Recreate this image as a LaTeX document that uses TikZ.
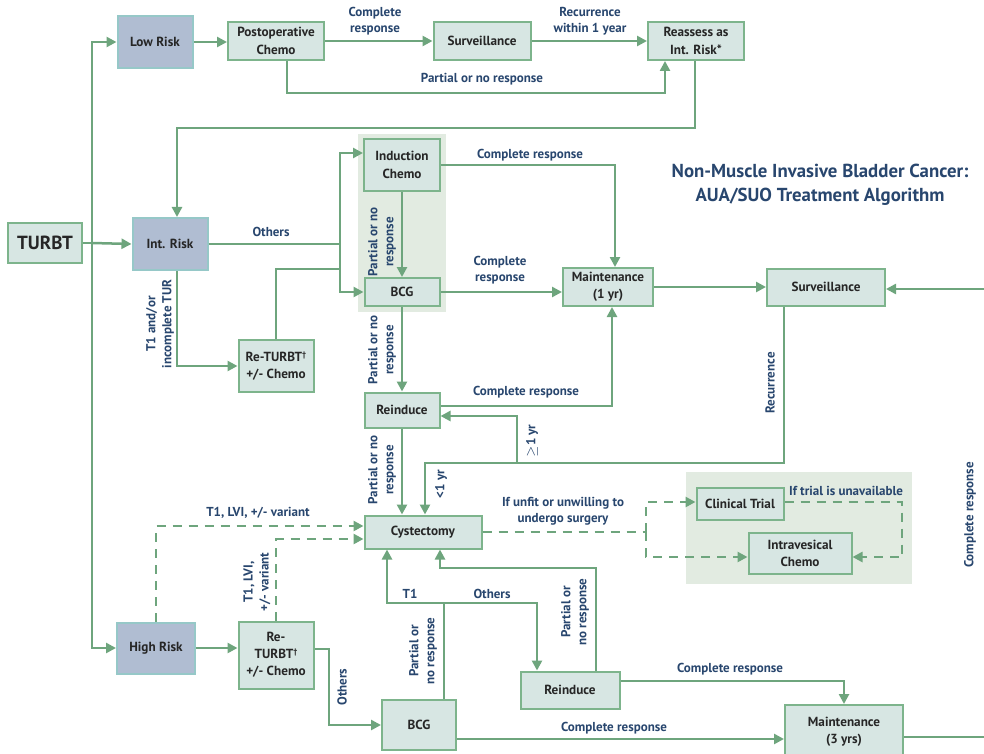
\documentclass[tikz,border=0pt]{standalone}
\usepackage{fontspec}
\setmainfont{PT Sans}
\usepackage{tikz}
\usetikzlibrary{arrows.meta}
\usetikzlibrary{positioning}

\definecolor{boxfill}{RGB}{215,230,227}
\definecolor{boxline}{RGB}{125,180,140}
\definecolor{riskfill}{RGB}{176,189,210}
\definecolor{riskline}{RGB}{150,200,200}
\definecolor{flowgreen}{RGB}{110,165,125}
\definecolor{labelblue}{RGB}{40,70,110}
\definecolor{panelfill}{RGB}{226,235,225}
\newcommand\dg{\raisebox{2pt}{\fontsize{4}{4}\selectfont †}}

\begin{document}
\begin{tikzpicture}[x=0.5pt,y=-0.5pt,
    box/.style={draw=boxline,fill=boxfill,line width=1pt,align=center,inner sep=0pt,
        text=black!85,font=\fontsize{6.6}{8.6}\selectfont\bfseries},
    risk/.style={box,fill=riskfill,draw=riskline},
    panel/.style={fill=panelfill,inner sep=0pt},
    flow/.style={draw=flowgreen,line width=1.25pt,-{Triangle[length=5pt,width=5pt]}},
    link/.style={draw=flowgreen,line width=1.25pt},
    dflow/.style={flow,dash pattern=on 4.5pt off 3.5pt},
    dlink/.style={link,dash pattern=on 4.5pt off 3.5pt},
    lbl/.style={text=labelblue,align=center,inner sep=0pt,font=\fontsize{6.5}{8}\selectfont\bfseries},
    title/.style={text=labelblue,align=center,font=\fontsize{9.4}{12}\selectfont\bfseries}]
    \useasboundingbox (0,0) rectangle (984,754);
    % shaded groups
    \node[panel,minimum width=44pt,minimum height=89pt] (panelA) at (402,223) {};
    \node[panel,minimum width=113pt,minimum height=56pt] (panelB) at (799,528) {};
    % boxes
    \node[box,minimum width=37pt,minimum height=19.5pt,font=\fontsize{9.5}{11}\selectfont\bfseries] (turbt) at (45,243) {TURBT};
    \node[risk,minimum width=37.5pt,minimum height=26pt] (lowrisk) at (155,42) {Low Risk};
    \node[box,minimum width=48pt,minimum height=19pt] (postop) at (276,41) {Postoperative\\Chemo};
    \node[box,minimum width=48.5pt,minimum height=19pt] (survA) at (482,41) {Surveillance};
    \node[box,minimum width=48pt,minimum height=19pt] (reassess) at (696,41) {Reassess as\\Int. Risk*};
    \node[risk,minimum width=37.5pt,minimum height=26pt] (intrisk) at (170,244) {Int. Risk};
    \node[box,minimum width=38pt,minimum height=26pt] (induct) at (402,165) {Induction\\Chemo};
    \node[box,minimum width=37.5pt,minimum height=14pt] (bcgA) at (402,292) {BCG};
    \node[box,minimum width=37.5pt,minimum height=26pt] (returbtA) at (276,366) {Re-TURBT\dg\\+/- Chemo};
    \node[box,minimum width=45pt,minimum height=19pt] (maintA) at (608,287) {Maintenance\\(1 yr)};
    \node[box,minimum width=59pt,minimum height=18.5pt] (survB) at (826,287) {Surveillance};
    \node[box,minimum width=37.5pt,minimum height=17.5pt] (reinduceA) at (402,410) {Reinduce};
    \node[box,minimum width=58.5pt,minimum height=16.5pt] (cyst) at (423,532) {Cystectomy};
    \node[box,minimum width=43.5pt,minimum height=16pt] (trial) at (740,504) {Clinical Trial};
    \node[box,minimum width=51.5pt,minimum height=20.5pt] (intraves) at (800,553) {Intravesical\\Chemo};
    \node[risk,minimum width=39pt,minimum height=25.5pt] (highrisk) at (156,648) {High Risk};
    \node[box,minimum width=37.5pt,minimum height=33.5pt] (returbtB) at (276,655) {Re-\\TURBT\dg\\+/- Chemo};
    \node[box,minimum width=37pt,minimum height=25pt] (bcgB) at (419,725) {BCG};
    \node[box,minimum width=49.5pt,minimum height=18.5pt] (reinduceB) at (570,690) {Reinduce};
    \node[box,minimum width=59pt,minimum height=27pt] (maintB) at (844,732) {Maintenance\\(3 yrs)};
    \node[title] (ttl) at (820,185) {Non-Muscle Invasive Bladder Cancer:\\AUA/SUO Treatment Algorithm};
    % bend points
    \coordinate (tk) at (92,243);
    \coordinate (pnA) at (287,93);
    \coordinate (pnB) at (665,93);
    \coordinate (rbA) at (695,128);
    \coordinate (rbB) at (177,128);
    \coordinate (splA) at (340,244);
    \coordinate (splB) at (340,269);
    \coordinate (rcA) at (784,463);
    \coordinate (rcB) at (425,463);
    \coordinate (geA) at (517,463);
    \coordinate (dsA) at (646,532);
    \coordinate (tuA) at (902,502);
    \coordinate (obA) at (329,649);
    \coordinate (bjA) at (444,603);
    \coordinate (rbC) at (596,568);
    \coordinate (rbD) at (440,568);
    \coordinate (rtA) at (992,289);
    \coordinate (rtB) at (992,737);
    % connectors
    \draw[link] (turbt.east) -- (tk);
    \draw[flow] (tk) |- (lowrisk.west);
    \draw[flow] (tk) -- (intrisk.west);
    \draw[flow] (tk) |- (highrisk.west);
    \draw[flow] (lowrisk.east) -- (postop.west |- lowrisk.east);
    \draw[flow] (postop.east) -- (survA.west);
    \draw[flow] (survA.east) -- (reassess.west);
    \draw[flow] (postop.south -| pnA) -- (pnA) -- (pnB) -- (reassess.south -| pnB);
    \draw[flow] (reassess.south -| rbA) -- (rbA) -- (rbB) -- (intrisk.north -| rbB);
    \draw[link] (intrisk.east) -- (splA);
    \draw[flow] (splA) |- (induct.west |- 0,153);
    \draw[flow] (splA) |- (bcgA.west);
    \draw[link] (returbtA.north) |- (splB);
    \draw[flow] (intrisk.south -| 177,0) |- (returbtA.west);
    \draw[flow] (induct.south) -- (bcgA.north);
    \draw[flow] (induct.east) -| (maintA.north -| 615,0);
    \draw[flow] (bcgA.east) -- (maintA.west |- bcgA.east);
    \draw[flow] (maintA.east) -- (survB.west);
    \draw[flow] (maintB.east |- rtB) -- (rtB) -- (rtA) -- (survB.east |- rtA);
    \draw[flow] (bcgA.south) -- (reinduceA.north);
    \draw[flow] (reinduceA.east |- 0,406) -| (maintA.south -| 612,0);
    \draw[flow] (survB.south -| rcA) -- (rcA) -- (rcB) -- (cyst.north -| rcB);
    \draw[flow] (geA) |- (reinduceA.east |- 0,416);
    \draw[flow] (reinduceA.south) -- (reinduceA.south |- cyst.north);
    \draw[dlink] (cyst.east) -- (dsA);
    \draw[dflow] (dsA) |- (trial.west |- 0,502);
    \draw[dflow] (dsA) |- (intraves.west |- 0,557);
    \draw[dflow] (trial.east |- tuA) -- (tuA) |- (intraves.east |- 0,557);
    \draw[dflow] (highrisk.north) |- (cyst.west |- 0,526);
    \draw[dflow] (returbtB.north) |- (cyst.west |- 0,539);
    \draw[flow] (highrisk.east) -- (returbtB.west |- highrisk.east);
    \draw[flow] (returbtB.east |- obA) -- (obA) |- (bcgB.west);
    \draw[link] (bcgB.north -| bjA) -- (bjA);
    \draw[flow] (bjA) -| (cyst.south -| 387,0);
    \draw[flow] (bjA) -| (reinduceB.north -| 537,0);
    \draw[flow] (reinduceB.north -| rbC) -- (rbC) -- (rbD) -- (cyst.south -| rbD);
    \draw[flow] (reinduceB.east |- 0,681) -| (maintB.north);
    \draw[flow] (bcgB.east |- 0,739) -- (maintB.west |- 0,739);
    % labels
    \node[lbl] (l1) at (375,21) {Complete\\response};
    \node[lbl] (l2) at (590,21) {Recurrence\\within 1 year};
    \node[lbl] (l3) at (482,79) {Partial or no response};
    \node[lbl] (l4) at (271,232) {Others};
    \node[lbl,rotate=90] (l5) at (160,324) {T1 and/or\\incomplete TUR};
    \node[lbl,rotate=90] (l6) at (382,242) {Partial or no\\response};
    \node[lbl] (l7) at (530,155) {Complete response};
    \node[lbl] (l8) at (500,270) {Complete\\response};
    \node[lbl,rotate=90] (l9) at (382,350) {Partial or no\\response};
    \node[lbl] (l10) at (526,392) {Complete response};
    \node[lbl,rotate=90] (l11) at (770,383) {Recurrence};
    \node[lbl,rotate=90] (l12) at (532,441) {${\geq}$1 yr};
    \node[lbl,rotate=90] (l13) at (441,484) {<1 yr};
    \node[lbl,rotate=90] (l14) at (382,470) {Partial or no\\response};
    \node[lbl] (l15) at (563,511) {If unfit or unwilling to\\undergo surgery};
    \node[lbl] (l16) at (846,491) {If trial is unavailable};
    \node[lbl] (l17) at (258,513) {T1, LVI, +/- variant};
    \node[lbl,rotate=90] (l18) at (257,582) {T1, LVI,\\+/- variant};
    \node[lbl,rotate=90] (l19) at (342,687) {Others};
    \node[lbl] (l20) at (410,594) {T1};
    \node[lbl] (l21) at (492,594) {Others};
    \node[lbl,rotate=90] (l22) at (423,651) {Partial or\\no response};
    \node[lbl,rotate=90] (l23) at (575,612) {Partial or\\no response};
    \node[lbl] (l24) at (730,669) {Complete response};
    \node[lbl] (l25) at (614,728) {Complete response};
    \node[lbl,rotate=90] (l26) at (970,515) {Complete response};
\end{tikzpicture}
\end{document}
